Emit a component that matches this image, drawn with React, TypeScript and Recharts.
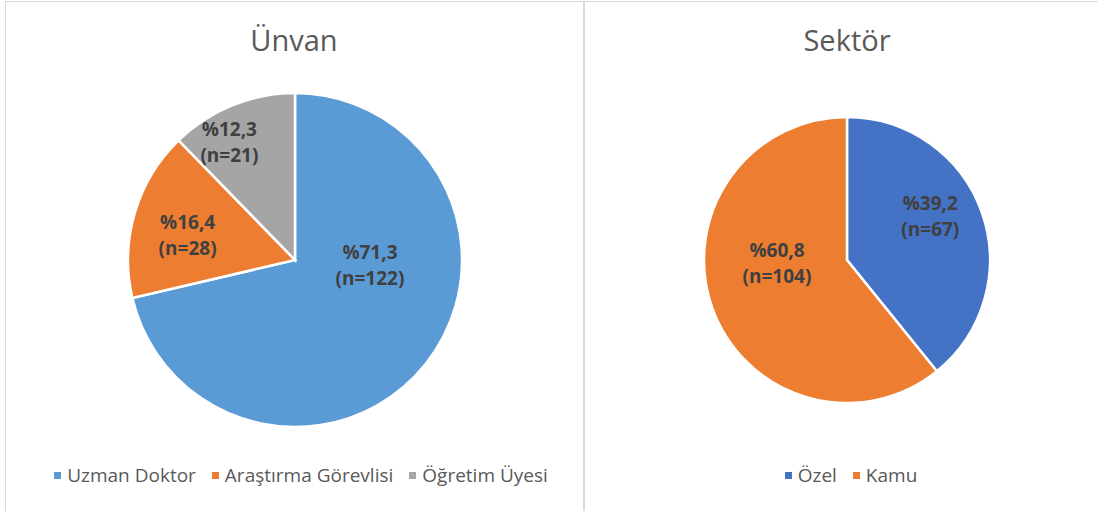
import React from 'react';
import { PieChart, Pie, Cell } from 'recharts';

// Ünvan (title) distribution
const unvanNames = ['Uzman Doktor', 'Araştırma Görevlisi', 'Öğretim Üyesi'];
const unvanCounts = [122, 28, 21];
const unvanColors = ['#5B9BD5', '#ED7D31', '#A5A5A5'];

// Sektör distribution
const sektorNames = ['Özel', 'Kamu'];
const sektorCounts = [67, 104];
const sektorColors = ['#4472C4', '#ED7D31'];

const FONT = '"Open Sans", "Noto Sans", sans-serif';
const BORDER = '#d9d9d9';
const NO_MARGIN = { top: 0, right: 0, bottom: 0, left: 0 };

// where Excel's "best fit" put each label: angle clockwise from 12 o'clock, fraction of radius
const UNVAN_LABEL_SPOT = [
    { angle: 94, r: 0.45 },
    { angle: 283, r: 0.66 },
    { angle: 331, r: 0.81 },
];
const SEKTOR_LABEL_SPOT = [
    { angle: 62, r: 0.66 },
    { angle: 267.5, r: 0.49 },
];

const makeLabel = (spots: { angle: number; r: number }[]) => (props: any) => {
    const { cx, cy, outerRadius, index, percent, value } = props;
    const spot = spots[index];
    const rad = (spot.angle * Math.PI) / 180;
    const x = cx + spot.r * outerRadius * Math.sin(rad);
    const y = cy - spot.r * outerRadius * Math.cos(rad);
    const pct = (percent * 100).toFixed(1).replace('.', ',');
    return (
        <text
            x={x}
            y={y}
            textAnchor="middle"
            fill="#404040"
            fontFamily={FONT}
            fontWeight={700}
            fontSize={19}
        >
            <tspan x={x} dy={-6}>{`%${pct}`}</tspan>
            <tspan x={x} dy={26}>{`(n=${value})`}</tspan>
        </text>
    );
};

const LegendRow: React.FC<{ names: string[]; colors: string[]; left: number; width: number }> = ({ names, colors, left, width }) => (
    <div
        style={{
            position: 'absolute',
            left,
            width,
            top: 462,
            display: 'flex',
            justifyContent: 'center',
            gap: 16,
            fontFamily: FONT,
            fontSize: 19,
            color: '#595959',
        }}
    >
        {names.map((n, i) => (
            <div key={n} style={{ display: 'flex', alignItems: 'center', gap: 6 }}>
                <span style={{ width: 7, height: 7, background: colors[i], display: 'inline-block' }} />
                <span>{n}</span>
            </div>
        ))}
    </div>
);

const Title: React.FC<{ text: string; left: number; width: number }> = ({ text, left, width }) => (
    <div
        style={{
            position: 'absolute',
            left,
            width,
            top: 20,
            textAlign: 'center',
            fontFamily: FONT,
            fontSize: 29,
            color: '#595959',
        }}
    >
        {text}
    </div>
);

export default function App() {
    const unvanData = unvanNames.map((name, i) => ({ name, value: unvanCounts[i] }));
    const sektorData = sektorNames.map((name, i) => ({ name, value: sektorCounts[i] }));

    return (
        <div style={{ position: 'absolute', left: 0, top: 0, width: 1098, height: 511, background: '#fff', overflow: 'hidden' }}>
            {/* chart frames */}
            <div style={{ position: 'absolute', left: 5, top: 1, width: 578, height: 530, border: `1px solid ${BORDER}` }} />
            <div style={{ position: 'absolute', left: 583, top: 1, width: 530, height: 530, border: `1px solid ${BORDER}` }} />

            <div style={{ position: 'absolute', left: 0, top: 0 }}>
                <PieChart width={584} height={511} margin={NO_MARGIN}>
                    <Pie
                        data={unvanData}
                        dataKey="value"
                        nameKey="name"
                        cx={295}
                        cy={260}
                        outerRadius={167}
                        startAngle={90}
                        endAngle={-270}
                        stroke="#ffffff"
                        strokeWidth={2.5}
                        labelLine={false}
                        label={makeLabel(UNVAN_LABEL_SPOT)}
                        isAnimationActive={false}
                    >
                        {unvanData.map((d, i) => (
                            <Cell key={d.name} fill={unvanColors[i]} />
                        ))}
                    </Pie>
                </PieChart>
            </div>

            <div style={{ position: 'absolute', left: 584, top: 0 }}>
                <PieChart width={514} height={511} margin={NO_MARGIN}>
                    <Pie
                        data={sektorData}
                        dataKey="value"
                        nameKey="name"
                        cx={263}
                        cy={260}
                        outerRadius={143}
                        startAngle={90}
                        endAngle={-270}
                        stroke="#ffffff"
                        strokeWidth={2.5}
                        labelLine={false}
                        label={makeLabel(SEKTOR_LABEL_SPOT)}
                        isAnimationActive={false}
                    >
                        {sektorData.map((d, i) => (
                            <Cell key={d.name} fill={sektorColors[i]} />
                        ))}
                    </Pie>
                </PieChart>
            </div>

            <Title text="Ünvan" left={5} width={578} />
            <Title text="Sektör" left={584} width={526} />
            <LegendRow names={unvanNames} colors={unvanColors} left={5} width={592} />
            <LegendRow names={sektorNames} colors={sektorColors} left={584} width={534} />
        </div>
    );
}
